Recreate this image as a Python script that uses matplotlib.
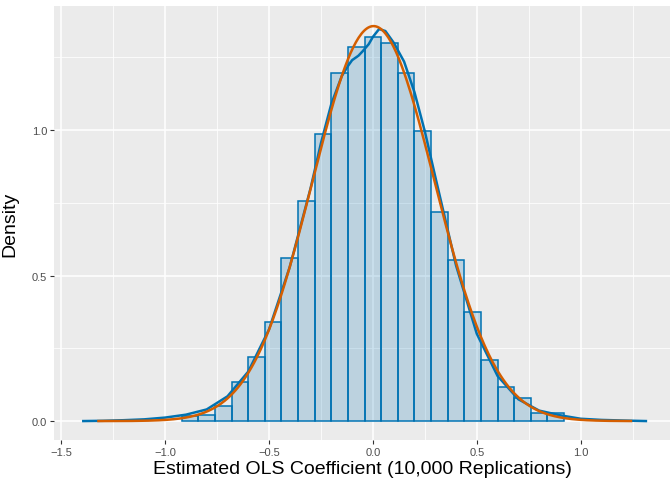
import numpy as np
import matplotlib
matplotlib.use("Agg")
import matplotlib.pyplot as plt

# Histogram (density scale), bin width 0.08 centred on 0
bin_centers = [-0.88, -0.80, -0.72, -0.64, -0.56, -0.48, -0.40, -0.32, -0.24, -0.16,
               -0.08, 0.00, 0.08, 0.16, 0.24, 0.32, 0.40, 0.48, 0.56, 0.64,
               0.72, 0.80, 0.88]
bin_density = [0.017, 0.020, 0.052, 0.135, 0.220, 0.340, 0.560, 0.755, 0.985, 1.195,
               1.285, 1.320, 1.300, 1.195, 0.995, 0.720, 0.555, 0.375, 0.210, 0.117,
               0.080, 0.028, 0.028]
bin_width = 0.08

# Kernel density estimate
kde_x = [-1.40, -1.30, -1.20, -1.10, -1.00, -0.90, -0.80, -0.70, -0.60, -0.50,
         -0.40, -0.30, -0.25, -0.20, -0.15, -0.12, -0.10, -0.07, -0.05, -0.02,
         0.00, 0.03, 0.06, 0.10, 0.15, 0.20, 0.25, 0.30, 0.40, 0.50,
         0.60, 0.70, 0.80, 0.90, 1.00, 1.10, 1.20, 1.32]
kde_y = [0.000, 0.001, 0.003, 0.006, 0.012, 0.022, 0.040, 0.085, 0.170, 0.315,
         0.530, 0.800, 0.955, 1.090, 1.185, 1.220, 1.240, 1.255, 1.270, 1.295,
         1.320, 1.347, 1.340, 1.300, 1.235, 1.130, 0.995, 0.840, 0.535, 0.300,
         0.155, 0.075, 0.036, 0.020, 0.008, 0.004, 0.002, 0.000]

# Normal reference curve (stat_function dnorm)
norm_mean = 0.003
norm_sd = 0.294
norm_range = (-1.327, 1.248)

xticks = [-1.5, -1.0, -0.5, 0.0, 0.5, 1.0]
xtick_labels = ["\u22121.5", "\u22121.0", "\u22120.5", "0.0", "0.5", "1.0"]
yticks = [0.0, 0.5, 1.0]
ytick_labels = ["0.0", "0.5", "1.0"]

plt.rcParams['font.family'] = ['Liberation Sans', 'DejaVu Sans']

W, H = 672, 481
fig = plt.figure(figsize=(W / 100, H / 100), dpi=100)
left, right, top, bottom = 54, 670, 7, 441
ax = fig.add_axes([left / W, (H - bottom) / H, (right - left) / W, (bottom - top) / H])
ax.set_facecolor('#EBEBEB')

ax.set_xlim(-1.535, 1.43)
ax.set_ylim(-0.065, 1.426)

for v in [-1.25, -0.75, -0.25, 0.25, 0.75, 1.25]:
    ax.axvline(v, color='white', lw=0.55, zorder=0)
for v in [0.25, 0.75, 1.25]:
    ax.axhline(v, color='white', lw=0.55, zorder=0)
for v in xticks:
    ax.axvline(v, color='white', lw=1.1, zorder=0)
for v in yticks:
    ax.axhline(v, color='white', lw=1.1, zorder=0)

ax.bar(bin_centers, bin_density, width=bin_width, color='#0072B2', alpha=0.2,
       edgecolor='none', zorder=2)
ax.bar(bin_centers, bin_density, width=bin_width, facecolor='none',
       edgecolor='#0072B2', linewidth=1.1, zorder=3)

ax.plot(kde_x, kde_y, color='#0072B2', lw=1.8, zorder=4, solid_capstyle='butt')

xs = np.linspace(norm_range[0], norm_range[1], 400)
ys = np.exp(-0.5 * ((xs - norm_mean) / norm_sd) ** 2) / (norm_sd * np.sqrt(2 * np.pi))
ax.plot(xs, ys, color='#D55E00', lw=1.8, zorder=5, solid_capstyle='butt')

ax.set_xticks(xticks)
ax.set_xticklabels(xtick_labels)
ax.set_yticks(yticks)
ax.set_yticklabels(ytick_labels)
ax.tick_params(axis='both', length=3, width=0.8, color='#333333',
               labelcolor='#4D4D4D', labelsize=8, pad=2)
for s in ax.spines.values():
    s.set_visible(False)

ax.set_xlabel('Estimated OLS Coefficient (10,000 Replications)', fontsize=14,
              color='black', labelpad=2)
ax.set_ylabel('Density', fontsize=14, color='black')
ax.yaxis.set_label_coords((18 - left) / (right - left) - 0.0, 0.5)

fig.savefig('out.png', dpi=100, facecolor='white')
